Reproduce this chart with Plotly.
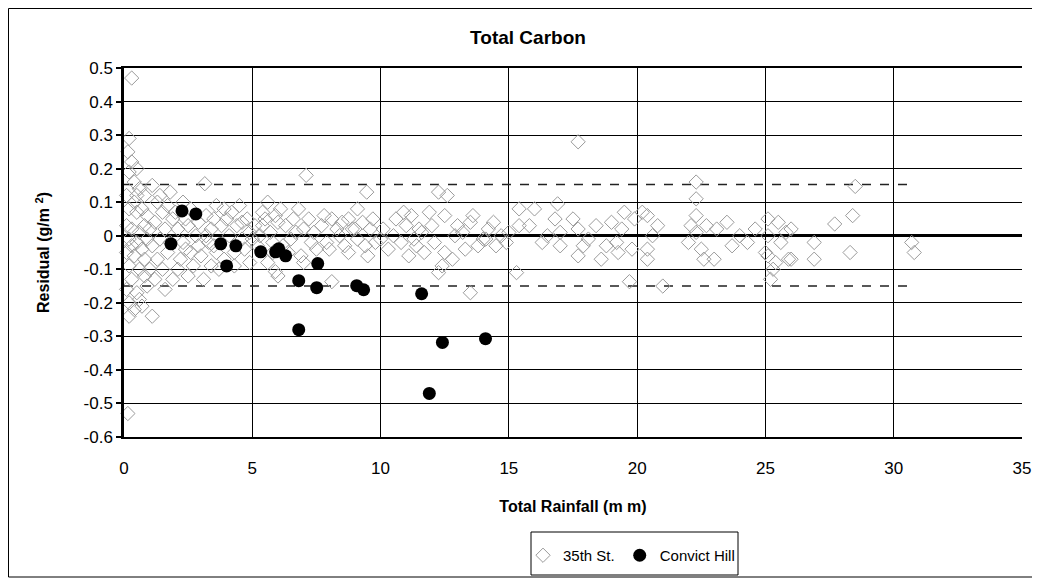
import plotly.graph_objects as go

# ---------------- data ----------------
x_ticks = [0, 5, 10, 15, 20, 25, 30, 35]
y_ticks = [0.5, 0.4, 0.3, 0.2, 0.1, 0, -0.1, -0.2, -0.3, -0.4, -0.5, -0.6]
y_tick_text = ["0.5", "0.4", "0.3", "0.2", "0.1", "0", "-0.1", "-0.2", "-0.3", "-0.4", "-0.5", "-0.6"]

st35_x = [
    0.3, 0.2, 0.3, 0.15, 0.2, 0.5, 0.4, 0.1, 0.6, 0.8, 0.2, 0.5, 0.9, 0.1, 0.3, 0.6, 0.8, 0.2, 0.5, 0.9,
    0.1, 0.4, 0.7, 0.2, 0.6, 0.3, 0.8, 0.1, 0.5, 0.2, 0.6, 0.4, 0.2, 0.7, 1.1, 0.15,
    0.4, 0.7, 0.3, 0.8, 1.0, 1.0, 0.5, 0.9, 1.4, 1.8,
    1.1, 1.3, 1.5, 1.2, 1.6, 1.4, 1.1, 1.7, 1.3, 1.5, 1.9, 1.8, 1.9, 1.7, 1.2, 1.6,
    2.1, 2.3, 2.5, 2.6, 2.2, 2.8, 2.9, 2.4, 2.7, 2.1, 2.5, 2.9, 2.3, 3.15,
    2.0, 2.6, 3.0, 3.2, 3.6, 4.0, 4.3, 4.6, 2.4, 3.5,
    3.2, 3.4, 3.3, 3.6, 3.5, 3.8, 3.9, 3.1, 3.7, 3.4, 3.9,
    4.2, 4.4, 4.6, 4.8, 4.3, 4.7, 4.9, 4.5, 4.1, 4.9,
    5.1, 5.3, 5.5, 5.6, 5.7, 5.2, 5.8, 5.9, 5.4, 5.9, 5.6, 5.8,
    5.0, 5.4, 6.2, 6.6, 7.0, 7.3, 7.8, 8.0, 8.5, 9.0, 9.4, 9.7, 10.0, 6.0,
    6.1, 6.3, 6.5, 6.7, 6.8, 6.9, 7.1, 7.2, 7.4, 7.5, 7.7, 7.9, 8.1, 8.1, 8.3, 8.4, 8.6, 8.75, 8.75, 8.9,
    9.1, 9.1, 9.3, 9.46, 9.5, 9.6, 9.8, 6.0, 6.4, 7.0,
    10.1, 10.3, 10.5, 10.6, 10.8, 11.0, 11.2, 11.3, 11.5, 11.7, 11.9, 11.6, 11.1,
    10.9, 11.4, 12.0, 12.9, 13.3, 13.6, 14.1, 14.4, 14.9,
    12.5, 12.1, 12.5, 12.8, 12.4, 12.26, 13.2, 13.5, 13.8, 14.2, 14.5, 14.7, 12.6, 12.26, 13.5,
    15.4, 15.4, 16.0, 15.8, 15.3, 16.9, 16.8, 17.0, 16.5, 17.0, 16.3, 15.0, 13.0, 14.0,
    17.7, 17.5, 17.7, 17.7, 17.9, 18.1, 18.4, 18.6, 18.8, 19.0, 19.26, 19.4, 19.5, 19.7, 19.9, 19.8,
    20.2, 20.4, 20.4, 20.4, 20.6, 21.0, 20.8, 19.2,
    22.3, 22.3, 22.3, 22.3, 22.5, 22.6, 22.1, 22.7, 22.0, 23.0, 23.1, 23.5, 23.7, 24.0, 24.3, 24.6,
    25.0, 25.1, 25.1, 25.1, 25.2, 25.3, 25.5, 25.6, 25.8, 25.9, 26.0, 26.0, 25.4,
    26.9, 26.9, 27.7, 28.3, 28.4, 28.5, 30.7, 30.8,
]
st35_y = [
    0.47, 0.29, 0.22, 0.25, 0.19, 0.20, 0.16, 0.12, 0.14, 0.12, 0.08, 0.07, 0.06, 0.03, 0.02, 0.01, 0.03, -0.01, -0.02, -0.01,
    -0.05, -0.06, -0.04, -0.09, -0.10, -0.13, -0.12, -0.16, -0.17, -0.20, -0.19, -0.22, -0.24, -0.21, -0.24, -0.53,
    0.10, 0.08, -0.03, -0.07, 0.02, -0.10, 0.12, -0.15, 0.12, -0.02,
    0.15, 0.10, 0.07, 0.04, 0.02, -0.01, -0.03, -0.05, -0.07, -0.10, -0.13, 0.13, 0.05, 0.09, -0.13, -0.16,
    0.02, -0.02, 0.03, -0.05, -0.07, 0.00, -0.03, 0.05, -0.09, -0.10, -0.12, 0.04, 0.10, 0.155,
    0.07, 0.08, -0.06, 0.00, 0.09, 0.05, -0.09, 0.04, -0.04, -0.03,
    0.06, 0.02, -0.02, -0.05, 0.05, 0.03, -0.07, -0.13, -0.10, -0.09, 0.08,
    0.07, 0.03, -0.01, 0.05, -0.05, -0.04, 0.01, 0.09, 0.00, -0.08,
    0.03, 0.00, 0.05, 0.10, 0.01, -0.03, -0.02, 0.06, 0.07, -0.107, -0.08, -0.05,
    -0.01, 0.03, -0.03, 0.05, 0.02, -0.02, 0.06, -0.04, 0.04, 0.02, -0.03, 0.05, -0.01, 0.04,
    0.08, 0.03, -0.01, 0.01, 0.08, -0.06, 0.18, 0.05, 0.01, -0.04, 0.03, -0.02, 0.05, -0.137, 0.02, 0.00, -0.03, 0.05, -0.05, 0.02,
    0.08, -0.01, 0.04, 0.13, -0.06, 0.02, -0.02, -0.12, -0.05, -0.08,
    0.02, -0.04, 0.00, 0.05, -0.02, 0.03, 0.06, -0.01, 0.02, -0.05, 0.07, 0.01, -0.06,
    0.07, -0.03, 0.03, 0.00, -0.04, 0.06, -0.01, 0.04, -0.02,
    0.06, -0.02, -0.05, -0.07, -0.09, -0.11, 0.01, 0.04, -0.03, 0.02, -0.03, 0.00, 0.12, 0.13, -0.17,
    0.08, 0.03, 0.08, 0.03, -0.11, 0.095, 0.05, 0.01, 0.00, -0.03, -0.02, 0.01, 0.03, -0.01,
    0.28, 0.05, 0.02, -0.06, -0.03, -0.01, 0.03, -0.07, -0.03, 0.04, -0.05, 0.02, 0.07, -0.137, 0.05, -0.04,
    0.07, 0.06, -0.04, -0.07, 0.00, -0.15, 0.03, -0.02,
    0.16, 0.11, 0.06, 0.01, -0.04, -0.07, 0.03, 0.03, -0.02, -0.07, 0.02, 0.04, -0.03, 0.00, -0.02, 0.02,
    -0.05, 0.05, 0.00, -0.06, -0.13, -0.10, 0.04, -0.02, 0.01, -0.07, 0.02, -0.07, -0.08,
    -0.02, -0.07, 0.035, -0.05, 0.06, 0.147, -0.02, -0.05,
]

convict_x = [1.83, 2.26, 2.8, 3.77, 4.0, 4.36, 5.33, 5.91, 6.03, 6.30, 7.55, 6.81, 7.51,
             9.07, 9.34, 11.6, 6.81, 11.9, 12.41, 14.09]
convict_y = [-0.024, 0.074, 0.065, -0.024, -0.09, -0.03, -0.048, -0.048, -0.039, -0.06, -0.083, -0.134, -0.155,
             -0.149, -0.161, -0.173, -0.28, -0.47, -0.318, -0.307]

band_x = [0.0, 30.7]
band_upper = [0.153, 0.153]
band_lower = [-0.15, -0.15]

# ---------------- figure ----------------
# The page body has an 8px margin, so the figure is 8px smaller than the window.
FONT = "Liberation Sans, Arial, sans-serif"
W, H = 1032, 572
L, R, T, B = 116, 18, 60, 143
PW, PH = W - L - R, H - T - B


def px_x(p):  # figure pixel -> paper x
    return (p - L) / PW


def px_y(p):  # figure pixel -> paper y
    return (PH + T - p) / PH


fig = go.Figure()

fig.add_trace(go.Scatter(x=band_x, y=band_upper, mode="lines", showlegend=False, hoverinfo="skip",
                         line=dict(color="#222222", width=1.5, dash="dash")))
fig.add_trace(go.Scatter(x=band_x, y=band_lower, mode="lines", showlegend=False, hoverinfo="skip",
                         line=dict(color="#222222", width=1.5, dash="dash")))

fig.add_trace(go.Scatter(
    x=st35_x, y=st35_y, mode="markers", name="35th St.", cliponaxis=False,
    marker=dict(symbol="diamond-open", size=11, color="#9a9a9a", line=dict(width=1, color="#9a9a9a")),
))
fig.add_trace(go.Scatter(
    x=convict_x, y=convict_y, mode="markers", name="Convict Hill", cliponaxis=False,
    marker=dict(symbol="circle", size=13, color="black"),
))

fig.update_layout(
    width=W, height=H,
    margin=dict(l=L, r=R, t=T, b=B, autoexpand=False),
    paper_bgcolor="white", plot_bgcolor="white",
    font=dict(family=FONT, size=16, color="black"),
    title=dict(text="<b>Total Carbon</b>", x=(528 - 8) / W, xref="container", y=1 - 29 / H, yref="container",
               xanchor="center", yanchor="middle", font=dict(size=19, family=FONT)),
    showlegend=True,
    legend=dict(orientation="h", x=px_x(515), y=px_y(531), xanchor="left", yanchor="top",
                borderwidth=0, bgcolor="rgba(0,0,0,0)",
                font=dict(size=15, family=FONT), itemwidth=30, tracegroupgap=0),
)

fig.update_xaxes(
    range=[0, 35], tickvals=x_ticks, ticktext=[str(v) for v in x_ticks],
    showgrid=True, gridcolor="black", gridwidth=1.3,
    showline=True, linecolor="black", linewidth=1.5, mirror=True,
    zeroline=False, ticks="", tickfont=dict(size=17), ticklabelstandoff=15,
    title=dict(text="<b>Total Rainfall (m m)</b>", font=dict(size=16), standoff=24),
)
fig.update_yaxes(
    range=[-0.6, 0.5], tickvals=y_ticks, ticktext=y_tick_text,
    showgrid=True, gridcolor="black", gridwidth=1.3,
    showline=True, linecolor="black", linewidth=2.5, mirror=False,
    zeroline=True, zerolinecolor="black", zerolinewidth=3,
    ticks="outside", ticklen=5, tickwidth=1.5, tickcolor="black", tickfont=dict(size=17),
    title=dict(text="<b>Residual (g/m <sup>2</sup>)</b>", font=dict(size=16), standoff=30),
)

# outer chart-area frame
fig.add_shape(type="rect", xref="paper", yref="paper",
              x0=px_x(0.5), x1=px_x(1027), y0=px_y(569), y1=px_y(0.5),
              line=dict(color="black", width=1), fillcolor="rgba(0,0,0,0)", layer="below")
# legend box
fig.add_shape(type="rect", xref="paper", yref="paper",
              x0=px_x(523), x1=px_x(730), y0=px_y(567), y1=px_y(524),
              line=dict(color="black", width=1), fillcolor="white", layer="below")

fig.write_html("out.html")
